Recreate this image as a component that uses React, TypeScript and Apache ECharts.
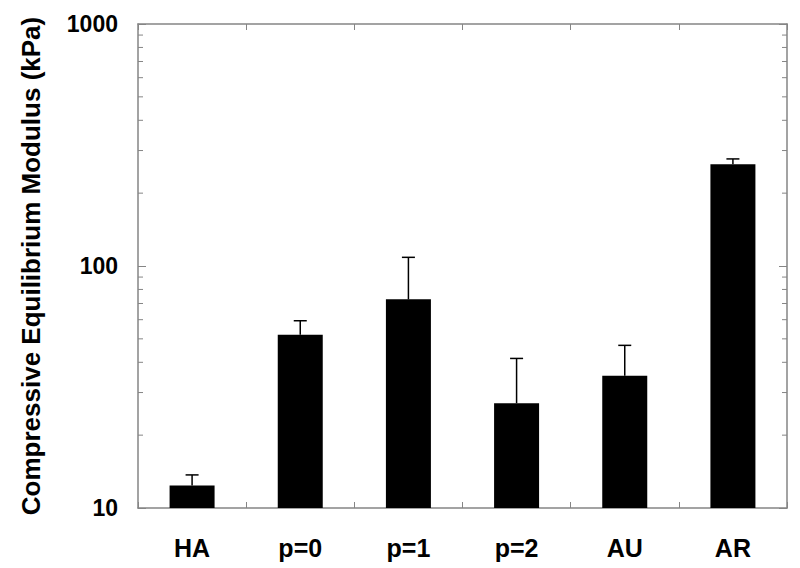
import React, { useEffect, useRef } from "react";
import * as echarts from "echarts";

const categories = ["HA", "p=0", "p=1", "p=2", "AU", "AR"];
const meanValues = [12.4, 52.0, 72.8, 27.1, 35.2, 263];
const upperErrorValues = [13.7, 59.4, 108.6, 41.5, 47.0, 277];
const minorTickValues = [20, 30, 40, 50, 60, 70, 80, 90, 200, 300, 400, 500, 600, 700, 800, 900];
const yTitle = "Compressive Equilibrium Modulus (kPa)";

const FONT = "'Liberation Sans', Arial, Helvetica, sans-serif";
const AXIS_GRAY = "#858585";

export default function App() {
  const ref = useRef<HTMLDivElement>(null);

  useEffect(() => {
    if (!ref.current) return;
    const chart = echarts.init(ref.current, undefined, { renderer: "svg" });

    const errData = categories.map((_, i) => [i, meanValues[i], upperErrorValues[i]]);
    const minorData = minorTickValues.map((v) => [0, v]);

    const option: any = {
      animation: false,
      backgroundColor: "#ffffff",
      grid: { left: 138, right: 13, top: 24, bottom: 60, containLabel: false },
      xAxis: [
        {
          type: "category",
          data: categories,
          position: "bottom",
          axisLine: { show: true, lineStyle: { color: AXIS_GRAY, width: 1.5 } },
          axisTick: { show: true, inside: true, length: 6, lineStyle: { color: AXIS_GRAY, width: 1 } },
          axisLabel: {
            color: "#000",
            fontFamily: FONT,
            fontWeight: "bold",
            fontSize: 25,
            margin: 27,
          },
          splitLine: { show: false },
        },
        {
          type: "category",
          data: categories,
          position: "top",
          axisLine: { show: true, lineStyle: { color: AXIS_GRAY, width: 1.5 } },
          axisTick: { show: true, inside: true, length: 6, lineStyle: { color: AXIS_GRAY, width: 1 } },
          axisLabel: { show: false },
          splitLine: { show: false },
        },
      ],
      yAxis: [
        {
          type: "log",
          logBase: 10,
          min: 10,
          max: 1000,
          position: "left",
          name: yTitle,
          nameLocation: "middle",
          nameRotate: 90,
          nameGap: 94,
          nameTextStyle: { color: "#000", fontFamily: FONT, fontWeight: "bold", fontSize: 26 },
          axisLine: { show: true, lineStyle: { color: AXIS_GRAY, width: 1.5 } },
          axisTick: { show: true, inside: true, length: 8, lineStyle: { color: AXIS_GRAY, width: 1 } },
          axisLabel: {
            color: "#000",
            fontFamily: FONT,
            fontWeight: "bold",
            fontSize: 23,
            margin: 20,
            formatter: (v: number) => String(Math.round(v)),
          },
          splitLine: { show: false },
        },
        {
          type: "log",
          logBase: 10,
          min: 10,
          max: 1000,
          position: "right",
          axisLine: { show: true, lineStyle: { color: AXIS_GRAY, width: 1.5 } },
          axisTick: { show: true, inside: true, length: 8, lineStyle: { color: AXIS_GRAY, width: 1 } },
          axisLabel: { show: false },
          splitLine: { show: false },
        },
      ],
      series: [
        {
          type: "bar",
          data: meanValues,
          xAxisIndex: 0,
          yAxisIndex: 0,
          barWidth: 45,
          itemStyle: { color: "#000" },
          z: 2,
        },
        {
          type: "custom",
          xAxisIndex: 0,
          yAxisIndex: 0,
          data: errData,
          z: 3,
          renderItem: (params: any, api: any) => {
            const idx = api.value(0);
            const top = api.coord([idx, api.value(2)]);
            const base = api.coord([idx, api.value(1)]);
            const half = 6.5;
            return {
              type: "group",
              children: [
                {
                  type: "line",
                  shape: { x1: top[0], y1: base[1], x2: top[0], y2: top[1] },
                  style: { stroke: "#000", lineWidth: 1.5 },
                },
                {
                  type: "line",
                  shape: { x1: top[0] - half, y1: top[1], x2: top[0] + half, y2: top[1] },
                  style: { stroke: "#000", lineWidth: 1.5 },
                },
              ],
            };
          },
        },
        {
          type: "custom",
          xAxisIndex: 0,
          yAxisIndex: 0,
          data: minorData,
          z: 4,
          silent: true,
          renderItem: (params: any, api: any) => {
            const cs = params.coordSys;
            const p = api.coord([0, api.value(1)]);
            const len = 5;
            return {
              type: "group",
              children: [
                {
                  type: "line",
                  shape: { x1: cs.x, y1: p[1], x2: cs.x + len, y2: p[1] },
                  style: { stroke: AXIS_GRAY, lineWidth: 1 },
                },
                {
                  type: "line",
                  shape: { x1: cs.x + cs.width - len, y1: p[1], x2: cs.x + cs.width, y2: p[1] },
                  style: { stroke: AXIS_GRAY, lineWidth: 1 },
                },
              ],
            };
          },
        },
      ],
    };

    chart.setOption(option);
    return () => chart.dispose();
  }, []);

  return <div ref={ref} style={{ width: 800, height: 568, position: "absolute", left: 0, top: 0 }} />;
}
